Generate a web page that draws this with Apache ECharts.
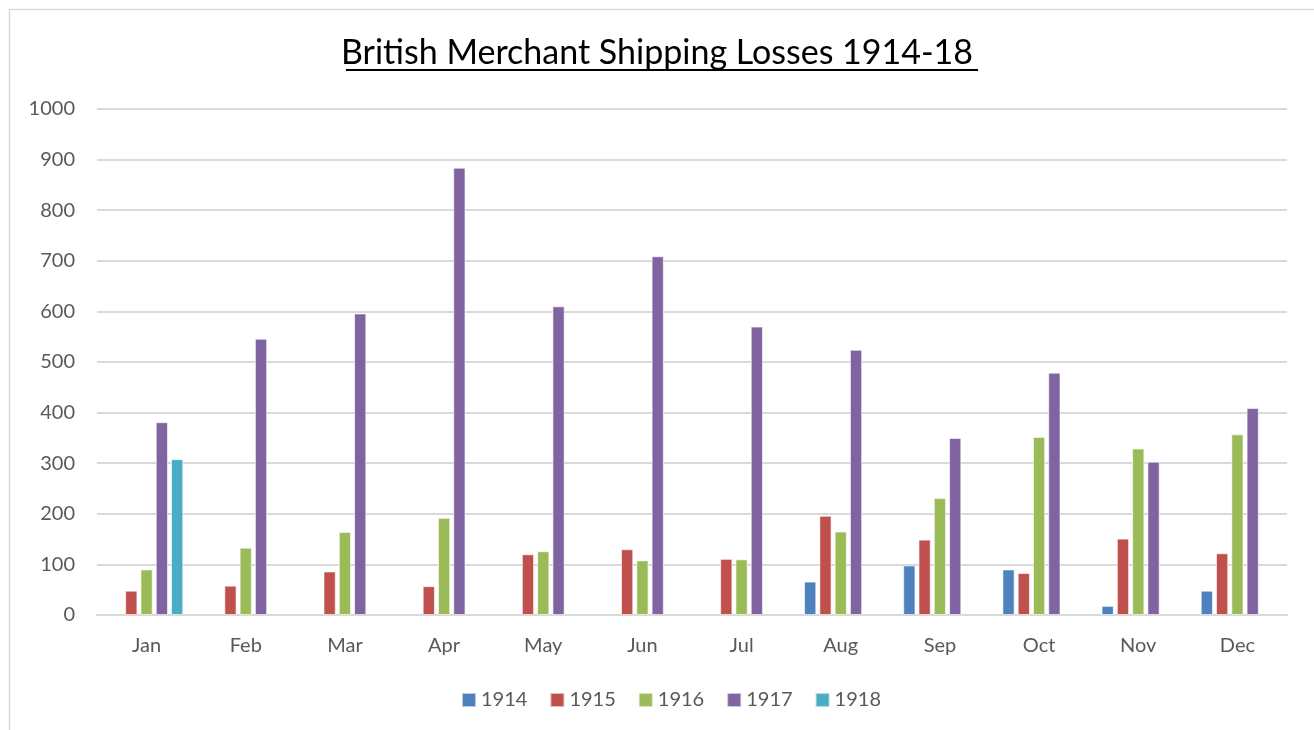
<!DOCTYPE html>
<html>
<head>
<meta charset="utf-8">
<script src="https://cdn.jsdelivr.net/npm/echarts@6/dist/echarts.min.js"></script>
<style>
  html, body { margin: 0; padding: 0; background: #fff; }
  #chart { width: 1314px; height: 730px; }
</style>
</head>
<body>
<div id="chart"></div>
<script>
const titleText = 'British Merchant Shipping Losses 1914-18';
const months = ['Jan','Feb','Mar','Apr','May','Jun','Jul','Aug','Sep','Oct','Nov','Dec'];
const seriesNames = ['1914','1915','1916','1917','1918'];
const s1914 = ['-','-','-','-','-','-','-',66,98,90,18,48];
const s1915 = [48,58,86,57,120,130,111,196,149,83,151,122];
const s1916 = [90,133,164,192,126,108,110,165,231,352,329,357];
const s1917 = [381,546,596,884,610,709,570,524,350,479,303,409];
const s1918 = [308,'-','-','-','-','-','-','-','-','-','-','-'];
const yTicks = { min: 0, max: 1000, interval: 100 };
const colors = ['#4f81bd','#c0504d','#9bbb59','#8064a2','#4bacc6'];

const FONT = 'Lato, "Open Sans", sans-serif';
const TITLE_SIZE = 34;
const allData = [s1914, s1915, s1916, s1917, s1918];

// measure title width for underline
const cv = document.createElement('canvas').getContext('2d');
cv.font = TITLE_SIZE + 'px ' + FONT;
const tw = cv.measureText(titleText).width;
const cx = 662;

const chart = echarts.init(document.getElementById('chart'));
chart.setOption({
  animation: false,
  backgroundColor: '#fff',
  color: colors,
  title: {
    text: titleText,
    left: 'center',
    top: 31,
    textStyle: { fontFamily: FONT, fontSize: TITLE_SIZE, fontWeight: 'normal', color: '#000' }
  },
  graphic: [
    { type: 'rect', shape: { x: 9.5, y: 9.5, width: 1400, height: 800 }, style: { fill: 'none', stroke: '#d9d9d9', lineWidth: 1.5 }, silent: true, z: -1 },
    { type: 'line', shape: { x1: cx - tw / 2, y1: 70, x2: cx + tw / 2, y2: 70 }, style: { stroke: '#000', lineWidth: 2 }, silent: true }
  ],
  legend: {
    data: seriesNames,
    bottom: 15,
    left: 456,
    icon: 'rect',
    itemWidth: 14,
    itemHeight: 14,
    itemGap: 22,
    textStyle: { fontFamily: FONT, fontSize: 20, color: '#595959' }
  },
  grid: { left: 97, right: 27, top: 109, bottom: 115, containLabel: false },
  xAxis: {
    type: 'category',
    data: months,
    axisLine: { lineStyle: { color: '#d9d9d9', width: 2 } },
    axisTick: { show: false },
    axisLabel: { fontFamily: FONT, fontSize: 20, color: '#595959', margin: 21 }
  },
  yAxis: {
    type: 'value',
    min: yTicks.min, max: yTicks.max, interval: yTicks.interval,
    axisLine: { show: false },
    axisTick: { show: false },
    splitLine: { lineStyle: { color: '#d9d9d9', width: 2 } },
    axisLabel: { fontFamily: FONT, fontSize: 20, color: '#595959', margin: 22, formatter: v => String(v) }
  },
  series: seriesNames.map((name, i) => ({
    name: name,
    type: 'bar',
    data: allData[i],
    barGap: '25%',
    barCategoryGap: '26%',
    itemStyle: { color: colors[i], borderColor: 'rgba(255,255,255,0.6)', borderWidth: 1 }
  }))
});
</script>
</body>
</html>
